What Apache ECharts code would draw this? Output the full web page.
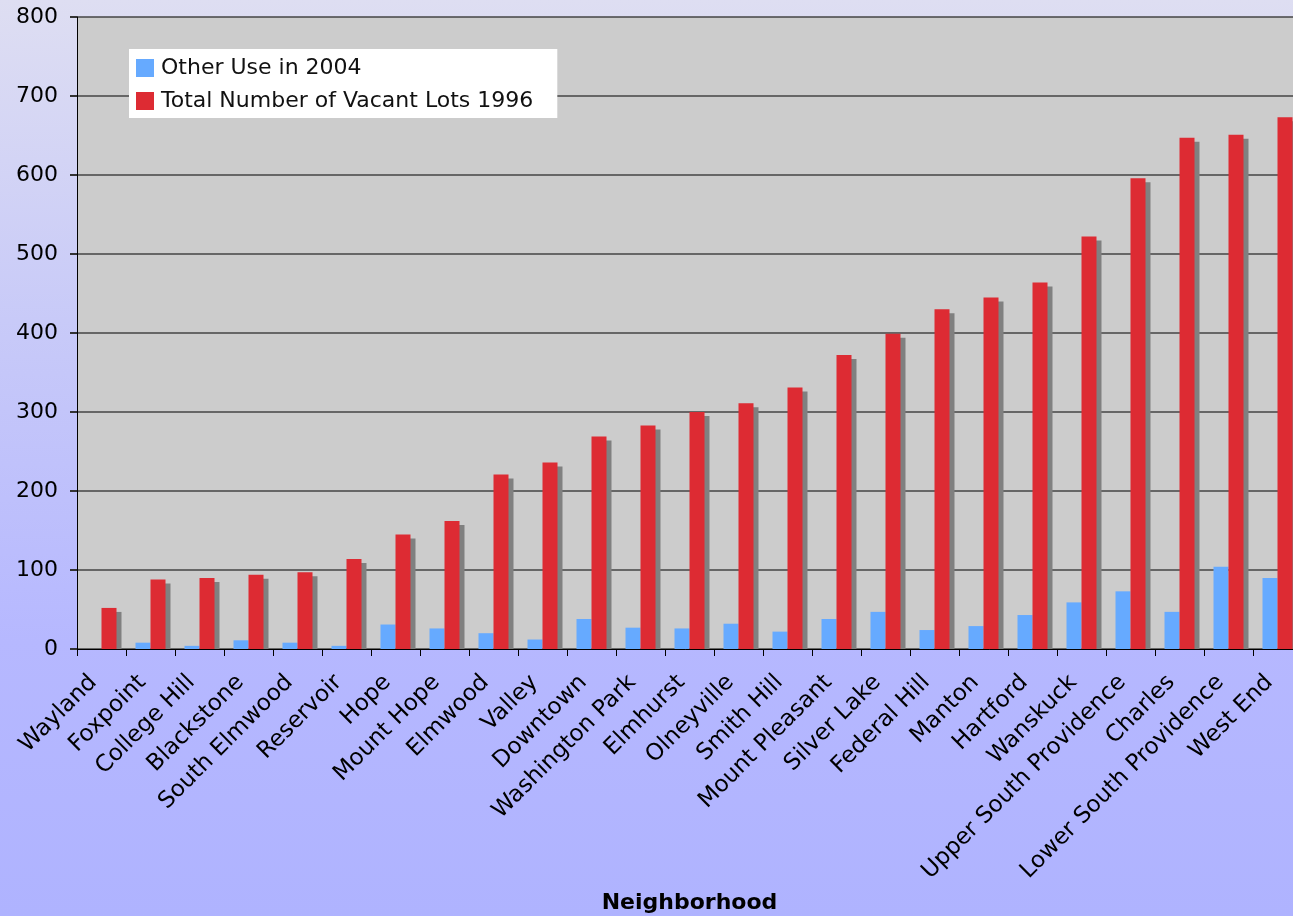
<!DOCTYPE html>
<html>
<head>
<meta charset="utf-8">
<title>Vacant Lots by Neighborhood</title>
<script src="https://cdn.jsdelivr.net/npm/echarts@6/dist/echarts.min.js"></script>
<style>
  html, body { margin: 0; padding: 0; }
  body {
    width: 1293px; height: 916px; overflow: hidden;
    background: linear-gradient(to bottom, #DEDEF2 0%, #C8CAF8 35%, #B6B8FF 70%, #AFB3FF 100%);
  }
  #chart { width: 1293px; height: 916px; }
</style>
</head>
<body>
<div id="chart"></div>
<script>
// Neighborhoods, ordered by the 1996 vacant-lot count
const neighborhoods = [
  'Wayland', 'Foxpoint', 'College Hill', 'Blackstone', 'South Elmwood',
  'Reservoir', 'Hope', 'Mount Hope', 'Elmwood', 'Valley', 'Downtown',
  'Washington Park', 'Elmhurst', 'Olneyville', 'Smith Hill', 'Mount Pleasant',
  'Silver Lake', 'Federal Hill', 'Manton', 'Hartford', 'Wanskuck',
  'Upper South Providence', 'Charles', 'Lower South Providence', 'West End'
];

// Lots put to other use by 2004
const otherUse2004 = [
  0, 8, 4, 11, 8, 4, 31, 26, 20, 12, 38, 27, 26, 32, 22, 38, 47, 24, 29, 43,
  59, 73, 47, 104, 90
];

// Total number of vacant lots in 1996
const vacantLots1996 = [
  52, 88, 90, 94, 97, 114, 145, 162, 221, 236, 269, 283, 300, 311, 331, 372,
  399, 430, 445, 464, 522, 596, 647, 651, 673
];

const yTicks = { min: 0, max: 800, step: 100 };

const seriesNames = ['Other Use in 2004', 'Total Number of Vacant Lots 1996'];

const BAR_W = 15;
const FONT = 'DejaVu Sans, Verdana, sans-serif';

const chart = echarts.init(document.getElementById('chart'), null, { renderer: 'canvas' });

// Drop shadow behind each red bar, offset down and to the right
function renderShadow(params, api) {
  const cat = api.value(0);
  const val = api.value(1);
  const top = api.coord([cat, val]);
  const base = api.coord([cat, 0]);
  const x = top[0] + 5;
  const y = top[1] + 4;
  return {
    type: 'rect',
    shape: { x: x, y: y, width: BAR_W, height: Math.max(0, base[1] - y) },
    style: { fill: '#808080' }
  };
}

chart.setOption({
  animation: false,
  backgroundColor: 'transparent',
  grid: {
    left: 77, top: 17, right: -9, bottom: 267,
    show: true, backgroundColor: '#CCCCCC', borderWidth: 0,
    outerBoundsMode: 'none'
  },
  legend: {
    data: seriesNames,
    orient: 'vertical',
    left: 129, top: 49,
    padding: [8, 24, 6, 7],
    backgroundColor: '#FFFFFF',
    borderWidth: 0,
    icon: 'rect',
    itemWidth: 18, itemHeight: 18,
    itemGap: 11,
    textStyle: { fontFamily: FONT, fontSize: 22, color: '#111', padding: [0, 0, 0, 2] }
  },
  xAxis: {
    type: 'category',
    data: neighborhoods,
    name: 'Neighborhood',
    nameLocation: 'middle',
    nameGap: 243,
    nameTextStyle: { fontFamily: FONT, fontSize: 22, fontWeight: 'bold', color: '#000' },
    axisLine: { lineStyle: { color: '#000', width: 1 } },
    axisTick: { show: true, length: 7, inside: false, lineStyle: { color: '#000' } },
    axisLabel: {
      interval: 0, rotate: 45, margin: 38,
      verticalAlign: 'bottom',
      fontFamily: FONT, fontSize: 23, color: '#000'
    },
    splitLine: { show: false }
  },
  yAxis: {
    type: 'value',
    min: yTicks.min, max: yTicks.max, interval: yTicks.step,
    axisLine: { show: true, lineStyle: { color: '#000', width: 1 } },
    axisTick: { show: true, length: 7, lineStyle: { color: '#333', width: 2 } },
    axisLabel: { margin: 19, fontFamily: FONT, fontSize: 22, color: '#000' },
    splitLine: { show: true, lineStyle: { color: '#444', width: 1.5 } }
  },
  series: [
    {
      name: seriesNames[0],
      type: 'bar',
      data: otherUse2004,
      barWidth: BAR_W,
      barGap: '0%',
      itemStyle: { color: '#66AAFF' },
      z: 3
    },
    {
      name: seriesNames[1],
      type: 'bar',
      data: vacantLots1996,
      barWidth: BAR_W,
      barGap: '0%',
      itemStyle: { color: '#DD2B33' },
      z: 3
    },
    {
      type: 'custom',
      silent: true,
      z: 2,
      renderItem: renderShadow,
      encode: { x: 0, y: 1 },
      data: vacantLots1996.map((v, i) => [i, v])
    }
  ]
});
</script>
</body>
</html>
